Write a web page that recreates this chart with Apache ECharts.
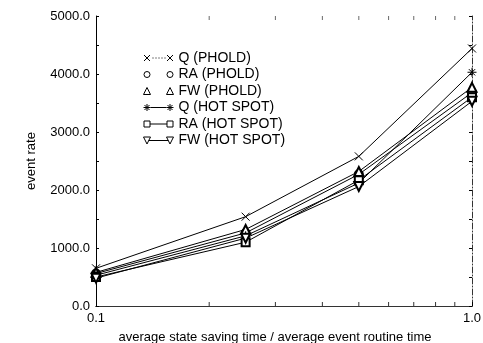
<!DOCTYPE html>
<html>
<head>
<meta charset="utf-8">
<script src="https://cdn.jsdelivr.net/npm/echarts@6/dist/echarts.min.js"></script>
<style>
html,body{margin:0;padding:0;background:#fff;}
#c{width:483px;height:343px;}
</style>
</head>
<body>
<div id="c"></div>
<script>
// ---- data ----
const xValues = [0.1, 0.25, 0.5, 1.0];
const seriesNames = ['Q (PHOLD)', 'RA (PHOLD)', 'FW (PHOLD)', 'Q (HOT SPOT)', 'RA (HOT SPOT)', 'FW (HOT SPOT)'];
const qPhold   = [650, 1540, 2580, 4440];
const raPhold  = [560, 1260, 2270, 3680];
const fwPhold  = [580, 1320, 2320, 3770];
const qHot     = [530, 1210, 2120, 4030];
const raHot    = [500, 1100, 2170, 3600];
const fwHot    = [480, 1170, 2060, 3530];
const yTicks = [0, 1000, 2000, 3000, 4000, 5000];
const xMinorTicks = [0.2, 0.3, 0.4, 0.5, 0.6, 0.7, 0.8, 0.9];

const FONT = 'Liberation Sans, Arial, Helvetica, sans-serif';

const pairs = v => xValues.map((x, i) => [x, v[i]]);

const crossSym = 'path://M0 0L10 10M10 0L0 10';
const starSym = 'path://M5 0L5 10M0 5L10 5M1.5 1.5L8.5 8.5M8.5 1.5L1.5 8.5';

// legend icons (marker - line - marker)
const A = 'M0 0M30 9';
const legIcons = [
  'path://' + A + 'M0.5 1.5L6.5 7.5M6.5 1.5L0.5 7.5M23.5 1.5L29.5 7.5M29.5 1.5L23.5 7.5' +
    'M9 4.5L10 4.5M12 4.5L13 4.5M15 4.5L16 4.5M18 4.5L19 4.5M21 4.5L22 4.5',
  'path://' + A + 'M6.5 4.5A3 3 0 1 1 0.5 4.5A3 3 0 1 1 6.5 4.5M29.5 4.5A3 3 0 1 1 23.5 4.5A3 3 0 1 1 29.5 4.5',
  'path://' + A + 'M3.5 1L7 8L0 8ZM26.5 1L30 8L23 8Z',
  'path://' + A + 'M3.5 1L3.5 8M0 4.5L7 4.5M1 2L6 7M6 2L1 7M26.5 1L26.5 8M23 4.5L30 4.5M24 2L29 7M29 2L24 7M7 4.5L23 4.5',
  'path://' + A + 'M0.5 1.5L6.5 1.5L6.5 7.5L0.5 7.5ZM23.5 1.5L29.5 1.5L29.5 7.5L23.5 7.5ZM6.5 4.5L23.5 4.5',
  'path://' + A + 'M0 1L7 1L3.5 8ZM23 1L30 1L26.5 8ZM5.2 4.5L24.8 4.5'
];

const seriesData = [qPhold, raPhold, fwPhold, qHot, raHot, fwHot];
const symbols = [crossSym, 'emptyCircle', 'emptyTriangle', starSym, 'emptyRect', 'emptyTriangle'];
const symSizes = [8, 8, 9, 9, 8, 9];
const symRot = [0, 0, 0, 0, 0, 180];

const series = seriesData.map((d, i) => ({
  name: seriesNames[i],
  type: 'line',
  data: pairs(d),
  symbol: symbols[i],
  symbolSize: symSizes[i],
  symbolRotate: symRot[i],
  showSymbol: true,
  lineStyle: { color: '#000', width: 1 },
  itemStyle: { color: '#000', borderColor: '#000', borderWidth: 1 },
  emphasis: { disabled: true },
  animation: false,
  z: 3
}));

series.push({
  type: 'scatter', silent: true, animation: false,
  data: xMinorTicks.map(x => [x, 0]),
  symbol: 'rect', symbolSize: [1, 4], symbolOffset: [0, -2],
  itemStyle: { color: '#000' }, z: 2
});
series.push({
  type: 'scatter', silent: true, animation: false,
  data: xMinorTicks.map(x => [x, 5000]),
  symbol: 'rect', symbolSize: [1, 4], symbolOffset: [0, 2],
  itemStyle: { color: '#444' }, z: 2
});

const chart = echarts.init(document.getElementById('c'), null, { renderer: 'canvas' });
chart.setOption({
  backgroundColor: '#fff',
  animation: false,
  textStyle: { fontFamily: FONT },
  grid: { left: 96, right: 11, top: 16, bottom: 37, show: false, containLabel: false, outerBoundsMode: 'none' },
  legend: {
    orient: 'vertical',
    left: 143, top: 51,
    padding: 0,
    itemWidth: 30, itemHeight: 9,
    itemGap: 2.5,
    selectedMode: false,
    textStyle: { fontFamily: FONT, fontSize: 14, color: '#000', lineHeight: 14 },
    data: seriesNames.map((n, i) => ({
      name: n,
      icon: legIcons[i],
      itemStyle: { color: 'transparent', borderColor: '#000', borderWidth: 1 }
    }))
  },
  xAxis: [{
    type: 'log', logBase: 10, min: 0.1, max: 1,
    name: 'average state saving time / average event routine time',
    nameLocation: 'middle', nameGap: 25,
    nameTextStyle: { fontFamily: FONT, fontSize: 13, color: '#000', padding: [0, 18, 0, 0] },
    axisLine: { show: true, lineStyle: { color: '#000', width: 1 } },
    axisTick: { show: true, inside: true, length: 4, lineStyle: { color: '#000' } },
    axisLabel: { fontFamily: FONT, fontSize: 13, color: '#000', margin: 6,
      formatter: v => Number(v).toFixed(1) },
    splitLine: { show: false }
  }, {
    type: 'log', logBase: 10, min: 0.1, max: 1, position: 'top',
    axisLine: { show: true, lineStyle: { color: '#333', width: 1 } },
    axisTick: { show: false }, axisLabel: { show: false }, splitLine: { show: false }
  }],
  yAxis: [{
    type: 'value', min: 0, max: 5000, interval: 1000,
    name: 'event rate', nameLocation: 'middle', nameGap: 58,
    nameTextStyle: { fontFamily: FONT, fontSize: 13, color: '#000' },
    axisLine: { show: true, lineStyle: { color: '#000', width: 1 } },
    axisTick: { show: true, inside: true, length: 3, lineStyle: { color: '#000' } },
    minorTick: { show: true, splitNumber: 2, length: 3, lineStyle: { color: '#000' } },
    axisLabel: { fontFamily: FONT, fontSize: 13, color: '#000', margin: 6,
      formatter: v => yTicks.includes(v) ? v.toFixed(1) : '' },
    splitLine: { show: false }
  }, {
    type: 'value', min: 0, max: 5000, interval: 500, position: 'right',
    axisLine: { show: true, lineStyle: { color: '#333', width: 1, type: [6, 2, 1, 2] } },
    axisTick: { show: true, inside: true, length: 3, lineStyle: { color: '#000' } },
    axisLabel: { show: false }, splitLine: { show: false }
  }],
  series: series
});
</script>
</body>
</html>
